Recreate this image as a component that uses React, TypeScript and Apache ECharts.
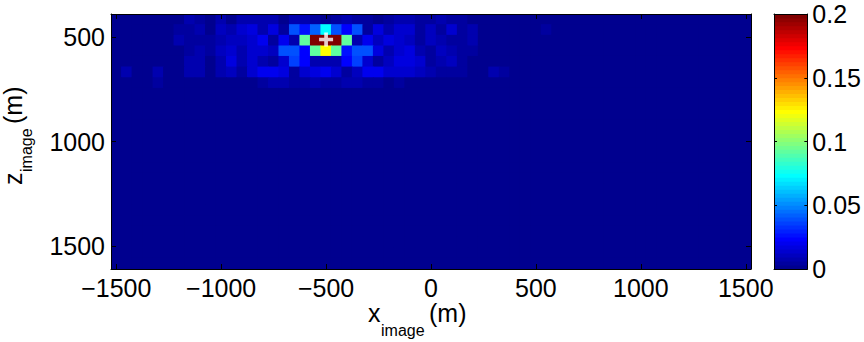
import React, { useEffect, useRef } from "react";
import * as echarts from "echarts";

// ---- data grid (cell centres, metres) ----
const X_CENTERS: number[] = Array.from({ length: 61 }, (_, k) => -1500 + 50 * k);
const Z_CENTERS: number[] = [
  415, 466, 517, 568, 618, 669, 720, 771, 822, 872, 923, 974,
  1025, 1076, 1126, 1177, 1228, 1279, 1330, 1380, 1431, 1482, 1533, 1584,
];
const CELL_W = 50;
const CELL_H = 50.8;

// ---- image values, rows from the top (z ≈ 415 … 720) ----
const ROW_0 = [
  0.002, 0.002, 0.002, 0.002, 0.002, 0.002, 0.002, 0.008, 0.005, 0.002,
  0.008, 0.002, 0.008, 0.009, 0.008, 0.009, 0.002, 0.008, 0.008, 0.005,
  0.002, 0.005, 0.008, 0.005, 0.005, 0.002, 0.005, 0.008, 0.009, 0.005,
  0.005, 0.008, 0.005, 0.005, 0.002, 0.002, 0.002, 0.002, 0.002, 0.002,
  0.002, 0.002, 0.002, 0.002, 0.002, 0.002, 0.002, 0.002, 0.002, 0.002,
  0.002, 0.002, 0.002, 0.002, 0.002, 0.002, 0.002, 0.002, 0.002, 0.002, 0.002,
];
const ROW_1 = [
  0.002, 0.002, 0.002, 0.002, 0.002, 0.002, 0.005, 0.005, 0.009, 0.002,
  0.011, 0.008, 0.014, 0.017, 0.009, 0.017, 0.005, 0.039, 0.027, 0.042,
  0.073, 0.039, 0.023, 0.039, 0.005, 0.017, 0.009, 0.014, 0.014, 0.005,
  0.011, 0.005, 0.014, 0.005, 0.008, 0.002, 0.002, 0.002, 0.002, 0.002,
  0.002, 0.005, 0.002, 0.002, 0.002, 0.002, 0.002, 0.002, 0.002, 0.002,
  0.002, 0.002, 0.002, 0.002, 0.002, 0.002, 0.002, 0.002, 0.002, 0.002, 0.002,
];
const ROW_2 = [
  0.002, 0.002, 0.002, 0.002, 0.002, 0.002, 0.008, 0.005, 0.005, 0.005,
  0.009, 0.011, 0.011, 0.014, 0.020, 0.005, 0.020, 0.008, 0.092, 0.200,
  0.200, 0.200, 0.092, 0.008, 0.020, 0.011, 0.017, 0.014, 0.011, 0.005,
  0.011, 0.008, 0.005, 0.005, 0.008, 0.002, 0.002, 0.002, 0.002, 0.002,
  0.002, 0.002, 0.002, 0.002, 0.002, 0.002, 0.002, 0.002, 0.002, 0.002,
  0.002, 0.002, 0.002, 0.002, 0.002, 0.002, 0.002, 0.002, 0.002, 0.002, 0.002,
];
const ROW_3 = [
  0.002, 0.002, 0.002, 0.002, 0.002, 0.002, 0.002, 0.005, 0.008, 0.005,
  0.011, 0.013, 0.008, 0.014, 0.014, 0.011, 0.039, 0.039, 0.023, 0.092,
  0.123, 0.092, 0.026, 0.039, 0.039, 0.017, 0.008, 0.014, 0.017, 0.008,
  0.005, 0.011, 0.008, 0.005, 0.005, 0.002, 0.002, 0.002, 0.002, 0.002,
  0.002, 0.002, 0.002, 0.002, 0.002, 0.002, 0.002, 0.002, 0.002, 0.002,
  0.002, 0.002, 0.002, 0.002, 0.002, 0.002, 0.002, 0.002, 0.002, 0.002, 0.002,
];
const ROW_4 = [
  0.002, 0.002, 0.002, 0.002, 0.002, 0.002, 0.002, 0.008, 0.008, 0.002,
  0.009, 0.017, 0.008, 0.014, 0.008, 0.005, 0.014, 0.036, 0.023, 0.009,
  0.009, 0.009, 0.023, 0.036, 0.014, 0.005, 0.011, 0.017, 0.018, 0.014,
  0.005, 0.008, 0.011, 0.005, 0.002, 0.002, 0.002, 0.002, 0.002, 0.002,
  0.002, 0.002, 0.002, 0.002, 0.002, 0.002, 0.002, 0.002, 0.002, 0.002,
  0.002, 0.002, 0.002, 0.002, 0.002, 0.002, 0.002, 0.002, 0.002, 0.002, 0.002,
];
const ROW_5 = [
  0.002, 0.008, 0.002, 0.002, 0.008, 0.002, 0.002, 0.008, 0.008, 0.002,
  0.008, 0.011, 0.005, 0.014, 0.020, 0.020, 0.017, 0.005, 0.014, 0.017,
  0.020, 0.014, 0.005, 0.011, 0.020, 0.020, 0.014, 0.014, 0.014, 0.011,
  0.008, 0.005, 0.005, 0.005, 0.002, 0.002, 0.008, 0.005, 0.002, 0.002,
  0.002, 0.002, 0.002, 0.002, 0.002, 0.002, 0.002, 0.002, 0.002, 0.002,
  0.002, 0.002, 0.002, 0.002, 0.002, 0.002, 0.002, 0.002, 0.002, 0.002, 0.002,
];
const ROW_6 = [
  0.002, 0.002, 0.002, 0.002, 0.005, 0.002, 0.002, 0.002, 0.002, 0.002,
  0.002, 0.002, 0.002, 0.002, 0.005, 0.008, 0.008, 0.005, 0.005, 0.008,
  0.005, 0.005, 0.008, 0.008, 0.005, 0.005, 0.002, 0.005, 0.002, 0.002,
  0.002, 0.002, 0.002, 0.002, 0.002, 0.002, 0.002, 0.002, 0.002, 0.002,
  0.002, 0.002, 0.002, 0.002, 0.002, 0.002, 0.002, 0.002, 0.002, 0.002,
  0.002, 0.002, 0.002, 0.002, 0.002, 0.002, 0.002, 0.002, 0.002, 0.002, 0.002,
];
const TOP_ROWS = [ROW_0, ROW_1, ROW_2, ROW_3, ROW_4, ROW_5, ROW_6];
// all deeper rows read as the uniform darkest level
const DEEP_LEVEL = 0.002;

const SOURCE: [number, number] = [-500, 512];

// ---- axes ----
const X_TICKS = [-1500, -1000, -500, 0, 500, 1000, 1500];
const Z_TICKS = [500, 1000, 1500];
const X_MIN = -1525;
const X_MAX = 1525;
const Z_MIN = 390;
const Z_MAX = 1610;
const C_MIN = 0;
const C_MAX = 0.2;
const C_STEP = 0.05;
const N_COLORS = 64;

const FONT = "'Liberation Sans', Arial, Helvetica, sans-serif";

function jetColor(v: number): string {
  let j = Math.floor(((v - C_MIN) / (C_MAX - C_MIN)) * N_COLORS);
  if (j < 0) j = 0;
  if (j > N_COLORS - 1) j = N_COLORS - 1;
  const k = j + 1;
  const u = (i: number) =>
    i >= 1 && i <= 16 ? i / 16 : i >= 17 && i <= 31 ? 1 : i >= 32 && i <= 47 ? (48 - i) / 16 : 0;
  const to = (c: number) => Math.round(c * 255);
  return `rgb(${to(u(k - 24))},${to(u(k - 8))},${to(u(k + 8))})`;
}

const fmtNum = (v: number) => (v < 0 ? "\u2212" + Math.abs(v) : String(v));

function cellRect(a: number[], b: number[], c: string) {
  const pad = 0.4;
  return {
    type: "rect",
    shape: {
      x: Math.min(a[0], b[0]) - pad,
      y: Math.min(a[1], b[1]) - pad,
      width: Math.abs(b[0] - a[0]) + 2 * pad,
      height: Math.abs(b[1] - a[1]) + 2 * pad,
    },
    style: { fill: c },
  };
}

const txt = (text: string, x: number, y: number, size: number) => ({
  type: "text",
  x,
  y,
  style: {
    text,
    fontSize: size,
    fontFamily: FONT,
    fill: "#000",
    align: "left",
    verticalAlign: "middle",
    textAlign: "left",
    textVerticalAlign: "middle",
  },
});

export default function App() {
  const ref = useRef<HTMLDivElement>(null);
  useEffect(() => {
    if (!ref.current) return;
    const chart = echarts.init(ref.current, null, { renderer: "svg" });

    const cells: number[][] = [];
    Z_CENTERS.forEach((z, j) => {
      const row = TOP_ROWS[j];
      X_CENTERS.forEach((x, k) => cells.push([x, z, row ? row[k] : DEEP_LEVEL]));
    });
    const bands: number[][] = [];
    for (let i = 0; i < N_COLORS; i++) {
      const lo = C_MIN + ((C_MAX - C_MIN) * i) / N_COLORS;
      const hi = C_MIN + ((C_MAX - C_MIN) * (i + 1)) / N_COLORS;
      bands.push([0.5, lo, hi]);
    }

    const lineStyle = { color: "#000", width: 1 };
    const label = { color: "#000", fontSize: 25, fontFamily: FONT };

    const option: any = {
      animation: false,
      backgroundColor: "#fff",
      grid: [
        {
          left: 111, top: 14, width: 640, height: 255, containLabel: false,
          show: true, borderWidth: 0, backgroundColor: jetColor(DEEP_LEVEL),
        },
        { left: 774, top: 14, width: 34, height: 255, containLabel: false },
      ],
      xAxis: [
        {
          gridIndex: 0, type: "value", min: X_MIN, max: X_MAX, position: "bottom", z: 10,
          axisLine: { onZero: false, lineStyle },
          axisTick: { inside: true, length: 5, lineStyle, customValues: X_TICKS },
          axisLabel: { ...label, margin: 6, customValues: X_TICKS, formatter: fmtNum },
          splitLine: { show: false },
        },
        {
          gridIndex: 0, type: "value", min: X_MIN, max: X_MAX, position: "top", z: 10,
          axisLine: { onZero: false, lineStyle },
          axisTick: { inside: true, length: 5, lineStyle, customValues: X_TICKS },
          axisLabel: { show: false },
          splitLine: { show: false },
        },
        {
          gridIndex: 1, type: "value", min: 0, max: 1, position: "bottom", z: 10,
          axisLine: { onZero: false, lineStyle },
          axisTick: { show: false }, axisLabel: { show: false }, splitLine: { show: false },
        },
        {
          gridIndex: 1, type: "value", min: 0, max: 1, position: "top", z: 10,
          axisLine: { onZero: false, lineStyle },
          axisTick: { show: false }, axisLabel: { show: false }, splitLine: { show: false },
        },
      ],
      yAxis: [
        {
          gridIndex: 0, type: "value", min: Z_MIN, max: Z_MAX, inverse: true, position: "left", z: 10,
          axisLine: { onZero: false, lineStyle },
          axisTick: { inside: true, length: 5, lineStyle, customValues: Z_TICKS },
          axisLabel: { ...label, margin: 6, customValues: Z_TICKS, formatter: fmtNum },
          splitLine: { show: false },
        },
        {
          gridIndex: 0, type: "value", min: Z_MIN, max: Z_MAX, inverse: true, position: "right", z: 10,
          axisLine: { onZero: false, lineStyle },
          axisTick: { inside: true, length: 5, lineStyle, customValues: Z_TICKS },
          axisLabel: { show: false },
          splitLine: { show: false },
        },
        {
          gridIndex: 1, type: "value", min: C_MIN, max: C_MAX, interval: C_STEP, position: "right", z: 10,
          axisLine: { onZero: false, lineStyle },
          axisTick: { inside: true, length: 3, lineStyle },
          axisLabel: { ...label, margin: 5 },
          splitLine: { show: false },
        },
        {
          gridIndex: 1, type: "value", min: C_MIN, max: C_MAX, interval: C_STEP, position: "left", z: 10,
          axisLine: { onZero: false, lineStyle },
          axisTick: { inside: true, length: 3, lineStyle },
          axisLabel: { show: false },
          splitLine: { show: false },
        },
      ],
      series: [
        {
          type: "custom",
          xAxisIndex: 0,
          yAxisIndex: 0,
          clip: true,
          progressive: 0,
          dimensions: ["x", "z", "v"],
          encode: { x: 0, y: 1 },
          data: cells,
          renderItem: (_p: any, api: any) => {
            const x = api.value(0);
            const z = api.value(1);
            const v = api.value(2);
            const a = api.coord([x - CELL_W / 2, z - CELL_H / 2]);
            const b = api.coord([x + CELL_W / 2, z + CELL_H / 2]);
            return cellRect(a, b, jetColor(v));
          },
        },
        {
          type: "scatter",
          xAxisIndex: 0,
          yAxisIndex: 0,
          z: 5,
          symbol: "path://M4.4,0H7.6V4.4H12V7.6H7.6V12H4.4V7.6H0V4.4H4.4Z",
          symbolSize: 14,
          itemStyle: { color: "#fff" },
          data: [SOURCE],
        },
        {
          type: "custom",
          xAxisIndex: 2,
          yAxisIndex: 2,
          clip: true,
          encode: { x: 0, y: 1 },
          data: bands,
          renderItem: (_p: any, api: any) => {
            const lo = api.value(1);
            const hi = api.value(2);
            const a = api.coord([0, lo]);
            const b = api.coord([1, hi]);
            return cellRect(a, b, jetColor((lo + hi) / 2));
          },
        },
      ],
      graphic: [
        {
          type: "group",
          x: 368,
          y: 313,
          children: [txt("x", 0, 0, 25), txt("image", 13, 17, 16), txt("(m)", 61, 0, 25)],
        },
        {
          type: "group",
          x: 0,
          y: 185,
          rotation: Math.PI / 2,
          children: [txt("z", 0, 13, 25), txt("image", 13, 26, 16), txt("(m)", 61, 13, 25)],
        },
      ],
    };
    chart.setOption(option);
    return () => chart.dispose();
  }, []);
  return (
    <div
      ref={ref}
      style={{ position: "fixed", left: 0, top: 0, width: 864, height: 342, background: "#fff" }}
    />
  );
}
